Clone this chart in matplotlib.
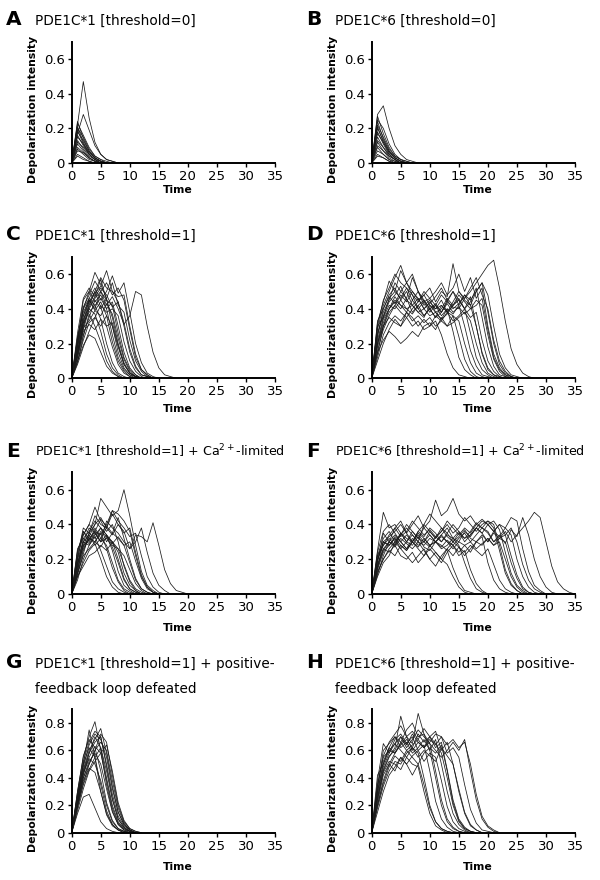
import numpy as np
import matplotlib.pyplot as plt

plt.rcParams['font.family'] = ['DejaVu Sans']
plt.rcParams['mathtext.default'] = 'regular'

# depolarization traces, one value per time step starting at t=0
traces_a = [
    [0, 0.22, 0.47, 0.26, 0.12, 0.05, 0.02, 0.01, 0],
    [0, 0.17, 0.28, 0.19, 0.1, 0.05, 0.02, 0.01, 0],
    [0, 0.24, 0.14, 0.07, 0.03, 0.01, 0],
    [0, 0.23, 0.16, 0.09, 0.04, 0.02, 0.01, 0],
    [0, 0.21, 0.12, 0.06, 0.03, 0.01, 0],
    [0, 0.2, 0.15, 0.08, 0.04, 0.02, 0],
    [0, 0.19, 0.11, 0.05, 0.02, 0.01, 0],
    [0, 0.18, 0.13, 0.07, 0.03, 0.01, 0],
    [0, 0.16, 0.1, 0.05, 0.02, 0],
    [0, 0.15, 0.11, 0.06, 0.03, 0.01, 0],
    [0, 0.13, 0.08, 0.04, 0.02, 0],
    [0, 0.12, 0.09, 0.05, 0.02, 0],
    [0, 0.11, 0.07, 0.03, 0.01, 0],
    [0, 0.09, 0.06, 0.03, 0.01, 0],
    [0, 0.08, 0.05, 0.02, 0.01, 0],
    [0, 0.07, 0.06, 0.03, 0.01, 0],
    [0, 0.05, 0.03, 0.01, 0],
    [0, 0.04, 0.02, 0.01, 0],
]

traces_b = [
    [0, 0.28, 0.33, 0.2, 0.1, 0.05, 0.02, 0.01, 0],
    [0, 0.27, 0.17, 0.09, 0.04, 0.02, 0.01, 0],
    [0, 0.25, 0.2, 0.11, 0.05, 0.02, 0.01, 0],
    [0, 0.24, 0.14, 0.07, 0.03, 0.01, 0],
    [0, 0.22, 0.15, 0.08, 0.04, 0.02, 0],
    [0, 0.21, 0.12, 0.06, 0.03, 0.01, 0],
    [0, 0.2, 0.13, 0.07, 0.03, 0.01, 0],
    [0, 0.18, 0.11, 0.05, 0.02, 0],
    [0, 0.17, 0.12, 0.06, 0.03, 0.01, 0],
    [0, 0.15, 0.09, 0.04, 0.02, 0],
    [0, 0.13, 0.09, 0.05, 0.02, 0],
    [0, 0.12, 0.07, 0.03, 0.01, 0],
    [0, 0.1, 0.07, 0.04, 0.02, 0],
    [0, 0.09, 0.05, 0.02, 0.01, 0],
    [0, 0.07, 0.05, 0.02, 0],
    [0, 0.05, 0.03, 0.01, 0],
    [0, 0.04, 0.03, 0.01, 0],
]

traces_c = [
    [0, 0.22, 0.4, 0.5, 0.61, 0.54, 0.46, 0.3, 0.15, 0.06, 0.02, 0.01, 0],
    [0, 0.16, 0.32, 0.43, 0.49, 0.53, 0.62, 0.5, 0.44, 0.3, 0.15, 0.06, 0.02, 0.01, 0],
    [0, 0.18, 0.36, 0.46, 0.52, 0.45, 0.5, 0.59, 0.49, 0.55, 0.38, 0.2, 0.09, 0.03, 0.01, 0],
    [0, 0.13, 0.28, 0.4, 0.46, 0.5, 0.42, 0.47, 0.4, 0.31, 0.36, 0.5, 0.48, 0.3, 0.15, 0.06, 0.02, 0.01, 0],
    [0, 0.1, 0.19, 0.25, 0.23, 0.15, 0.07, 0.03, 0.01, 0],
    [0, 0.15, 0.3, 0.4, 0.37, 0.27, 0.14, 0.06, 0.02, 0],
    [0, 0.21, 0.45, 0.5, 0.44, 0.48, 0.4, 0.25, 0.12, 0.05, 0.02, 0],
    [0, 0.15, 0.32, 0.38, 0.42, 0.46, 0.4, 0.44, 0.3, 0.15, 0.06, 0.02, 0],
    [0, 0.23, 0.41, 0.48, 0.56, 0.5, 0.45, 0.42, 0.26, 0.12, 0.05, 0.02, 0],
    [0, 0.1, 0.22, 0.32, 0.35, 0.3, 0.36, 0.3, 0.18, 0.08, 0.03, 0.01, 0],
    [0, 0.18, 0.33, 0.45, 0.4, 0.5, 0.55, 0.48, 0.52, 0.45, 0.28, 0.12, 0.05, 0.02, 0],
    [0, 0.2, 0.36, 0.44, 0.5, 0.41, 0.3, 0.18, 0.08, 0.03, 0.01, 0],
    [0, 0.08, 0.18, 0.27, 0.35, 0.42, 0.38, 0.4, 0.36, 0.21, 0.1, 0.04, 0.01, 0],
    [0, 0.26, 0.46, 0.52, 0.47, 0.57, 0.45, 0.35, 0.2, 0.09, 0.03, 0.01, 0],
    [0, 0.12, 0.25, 0.35, 0.45, 0.4, 0.46, 0.55, 0.42, 0.38, 0.22, 0.1, 0.04, 0.01, 0],
    [0, 0.2, 0.4, 0.46, 0.42, 0.34, 0.2, 0.09, 0.03, 0.01, 0],
    [0, 0.09, 0.24, 0.37, 0.3, 0.21, 0.1, 0.04, 0.01, 0],
    [0, 0.15, 0.3, 0.42, 0.5, 0.58, 0.52, 0.5, 0.47, 0.48, 0.3, 0.14, 0.05, 0.02, 0],
    [0, 0.19, 0.34, 0.41, 0.47, 0.52, 0.48, 0.41, 0.44, 0.32, 0.17, 0.07, 0.02, 0.01, 0],
    [0, 0.12, 0.29, 0.33, 0.39, 0.36, 0.43, 0.37, 0.23, 0.11, 0.04, 0.01, 0],
    [0, 0.24, 0.38, 0.45, 0.39, 0.44, 0.36, 0.21, 0.1, 0.04, 0.01, 0],
    [0, 0.14, 0.27, 0.31, 0.28, 0.34, 0.3, 0.32, 0.19, 0.08, 0.03, 0.01, 0],
]

traces_d = [
    [0, 0.3, 0.35, 0.46, 0.5, 0.62, 0.55, 0.6, 0.5, 0.45, 0.4, 0.42, 0.38, 0.45, 0.5, 0.42, 0.48, 0.45, 0.5, 0.55, 0.38, 0.2, 0.08, 0.03, 0.01, 0],
    [0, 0.2, 0.32, 0.4, 0.45, 0.42, 0.4, 0.37, 0.42, 0.45, 0.4, 0.43, 0.38, 0.44, 0.41, 0.4, 0.46, 0.5, 0.55, 0.6, 0.65, 0.68, 0.52, 0.33, 0.17, 0.08, 0.03, 0.01, 0],
    [0, 0.2, 0.3, 0.35, 0.32, 0.3, 0.35, 0.3, 0.33, 0.28, 0.3, 0.33, 0.25, 0.14, 0.06, 0.02, 0.01, 0],
    [0, 0.15, 0.22, 0.27, 0.24, 0.2, 0.23, 0.27, 0.24, 0.3, 0.32, 0.28, 0.35, 0.3, 0.36, 0.33, 0.2, 0.09, 0.03, 0.01, 0],
    [0, 0.28, 0.42, 0.5, 0.58, 0.65, 0.55, 0.5, 0.45, 0.48, 0.52, 0.44, 0.5, 0.47, 0.66, 0.5, 0.45, 0.42, 0.3, 0.15, 0.06, 0.02, 0.01, 0],
    [0, 0.33, 0.4, 0.48, 0.52, 0.45, 0.5, 0.42, 0.38, 0.35, 0.42, 0.4, 0.45, 0.38, 0.42, 0.46, 0.4, 0.44, 0.52, 0.35, 0.18, 0.07, 0.02, 0.01, 0],
    [0, 0.18, 0.3, 0.38, 0.42, 0.48, 0.44, 0.5, 0.46, 0.4, 0.36, 0.38, 0.34, 0.4, 0.37, 0.42, 0.3, 0.16, 0.07, 0.02, 0.01, 0],
    [0, 0.25, 0.38, 0.45, 0.55, 0.5, 0.46, 0.58, 0.5, 0.44, 0.46, 0.5, 0.55, 0.48, 0.52, 0.6, 0.5, 0.58, 0.46, 0.52, 0.3, 0.14, 0.06, 0.02, 0.01, 0],
    [0, 0.12, 0.25, 0.32, 0.36, 0.33, 0.38, 0.35, 0.3, 0.34, 0.3, 0.36, 0.33, 0.3, 0.32, 0.35, 0.38, 0.33, 0.2, 0.09, 0.03, 0.01, 0],
    [0, 0.22, 0.35, 0.42, 0.4, 0.45, 0.4, 0.42, 0.38, 0.4, 0.44, 0.4, 0.42, 0.38, 0.36, 0.24, 0.11, 0.04, 0.01, 0],
    [0, 0.3, 0.45, 0.52, 0.6, 0.55, 0.52, 0.45, 0.5, 0.42, 0.45, 0.38, 0.4, 0.46, 0.42, 0.48, 0.44, 0.4, 0.45, 0.42, 0.25, 0.11, 0.04, 0.01, 0],
    [0, 0.16, 0.28, 0.36, 0.42, 0.38, 0.35, 0.4, 0.44, 0.48, 0.42, 0.38, 0.34, 0.37, 0.42, 0.45, 0.4, 0.26, 0.12, 0.05, 0.02, 0],
    [0, 0.26, 0.36, 0.44, 0.48, 0.53, 0.45, 0.42, 0.46, 0.4, 0.43, 0.47, 0.52, 0.45, 0.4, 0.43, 0.48, 0.42, 0.5, 0.55, 0.48, 0.3, 0.14, 0.06, 0.02, 0.01, 0],
    [0, 0.1, 0.2, 0.28, 0.34, 0.3, 0.38, 0.33, 0.36, 0.32, 0.35, 0.3, 0.33, 0.38, 0.33, 0.36, 0.4, 0.35, 0.38, 0.22, 0.1, 0.04, 0.01, 0],
    [0, 0.24, 0.4, 0.47, 0.43, 0.5, 0.55, 0.48, 0.44, 0.5, 0.46, 0.42, 0.48, 0.44, 0.5, 0.45, 0.4, 0.47, 0.3, 0.14, 0.05, 0.02, 0],
    [0, 0.2, 0.34, 0.4, 0.47, 0.42, 0.38, 0.45, 0.4, 0.36, 0.4, 0.35, 0.38, 0.43, 0.38, 0.41, 0.37, 0.4, 0.42, 0.46, 0.28, 0.12, 0.05, 0.02, 0],
    [0, 0.32, 0.44, 0.56, 0.5, 0.46, 0.52, 0.48, 0.4, 0.44, 0.38, 0.42, 0.36, 0.4, 0.27, 0.12, 0.05, 0.02, 0],
    [0, 0.14, 0.3, 0.4, 0.44, 0.4, 0.46, 0.38, 0.42, 0.36, 0.4, 0.35, 0.42, 0.38, 0.44, 0.5, 0.46, 0.52, 0.58, 0.48, 0.4, 0.22, 0.1, 0.04, 0.01, 0],
]

traces_e = [
    [0, 0.2, 0.36, 0.3, 0.38, 0.32, 0.28, 0.18, 0.08, 0.03, 0.01, 0],
    [0, 0.15, 0.28, 0.35, 0.4, 0.55, 0.5, 0.45, 0.48, 0.6, 0.45, 0.28, 0.13, 0.05, 0.02, 0],
    [0, 0.12, 0.25, 0.32, 0.36, 0.3, 0.42, 0.38, 0.35, 0.3, 0.26, 0.34, 0.33, 0.3, 0.41, 0.28, 0.14, 0.06, 0.02, 0.01, 0],
    [0, 0.18, 0.3, 0.28, 0.33, 0.25, 0.16, 0.07, 0.03, 0.01, 0],
    [0, 0.1, 0.18, 0.25, 0.29, 0.2, 0.1, 0.04, 0.01, 0],
    [0, 0.22, 0.38, 0.35, 0.45, 0.4, 0.38, 0.48, 0.46, 0.42, 0.36, 0.22, 0.1, 0.04, 0.01, 0],
    [0, 0.14, 0.26, 0.32, 0.3, 0.36, 0.33, 0.3, 0.2, 0.09, 0.03, 0.01, 0],
    [0, 0.25, 0.34, 0.4, 0.5, 0.42, 0.36, 0.4, 0.3, 0.16, 0.07, 0.02, 0],
    [0, 0.08, 0.2, 0.28, 0.34, 0.38, 0.3, 0.35, 0.32, 0.28, 0.18, 0.08, 0.03, 0.01, 0],
    [0, 0.2, 0.3, 0.34, 0.28, 0.32, 0.38, 0.34, 0.4, 0.36, 0.26, 0.3, 0.38, 0.24, 0.12, 0.05, 0.02, 0],
    [0, 0.16, 0.32, 0.36, 0.42, 0.38, 0.34, 0.3, 0.24, 0.12, 0.05, 0.02, 0],
    [0, 0.12, 0.22, 0.26, 0.3, 0.27, 0.33, 0.28, 0.26, 0.17, 0.08, 0.03, 0.01, 0],
    [0, 0.24, 0.36, 0.32, 0.3, 0.35, 0.26, 0.15, 0.07, 0.02, 0],
    [0, 0.18, 0.27, 0.33, 0.4, 0.44, 0.38, 0.46, 0.4, 0.35, 0.38, 0.24, 0.11, 0.04, 0.01, 0],
    [0, 0.1, 0.16, 0.22, 0.24, 0.28, 0.25, 0.3, 0.26, 0.22, 0.14, 0.06, 0.02, 0],
    [0, 0.21, 0.34, 0.4, 0.36, 0.43, 0.39, 0.35, 0.44, 0.32, 0.2, 0.09, 0.03, 0.01, 0],
    [0, 0.13, 0.3, 0.38, 0.35, 0.3, 0.34, 0.29, 0.33, 0.28, 0.3, 0.19, 0.09, 0.03, 0.01, 0],
    [0, 0.17, 0.28, 0.31, 0.36, 0.34, 0.4, 0.48, 0.42, 0.38, 0.33, 0.35, 0.22, 0.1, 0.04, 0.01, 0],
    [0, 0.26, 0.32, 0.29, 0.35, 0.3, 0.32, 0.27, 0.18, 0.08, 0.03, 0.01, 0],
    [0, 0.11, 0.23, 0.35, 0.32, 0.38, 0.34, 0.25, 0.13, 0.05, 0.02, 0],
]

traces_f = [
    [0, 0.2, 0.3, 0.28, 0.33, 0.3, 0.26, 0.3, 0.35, 0.32, 0.28, 0.3, 0.33, 0.3, 0.28, 0.32, 0.35, 0.3, 0.34, 0.38, 0.35, 0.3, 0.32, 0.36, 0.3, 0.34, 0.38, 0.42, 0.47, 0.44, 0.3, 0.16, 0.07, 0.03, 0.01, 0],
    [0, 0.15, 0.25, 0.3, 0.28, 0.35, 0.32, 0.3, 0.36, 0.33, 0.38, 0.35, 0.3, 0.34, 0.32, 0.3, 0.36, 0.33, 0.38, 0.35, 0.4, 0.36, 0.33, 0.38, 0.44, 0.42, 0.26, 0.13, 0.05, 0.02, 0],
    [0, 0.25, 0.47, 0.38, 0.4, 0.35, 0.3, 0.36, 0.32, 0.3, 0.34, 0.3, 0.28, 0.25, 0.15, 0.07, 0.02, 0.01, 0],
    [0, 0.12, 0.2, 0.25, 0.22, 0.28, 0.25, 0.3, 0.26, 0.22, 0.28, 0.24, 0.2, 0.26, 0.22, 0.27, 0.24, 0.28, 0.25, 0.22, 0.26, 0.17, 0.08, 0.03, 0.01, 0],
    [0, 0.18, 0.35, 0.3, 0.38, 0.42, 0.35, 0.4, 0.45, 0.38, 0.42, 0.54, 0.45, 0.48, 0.55, 0.46, 0.42, 0.45, 0.4, 0.38, 0.42, 0.4, 0.28, 0.14, 0.06, 0.02, 0],
    [0, 0.1, 0.18, 0.22, 0.3, 0.26, 0.22, 0.18, 0.22, 0.26, 0.2, 0.24, 0.2, 0.17, 0.1, 0.04, 0.01, 0],
    [0, 0.22, 0.32, 0.36, 0.3, 0.34, 0.4, 0.36, 0.32, 0.38, 0.34, 0.3, 0.34, 0.38, 0.32, 0.36, 0.3, 0.34, 0.38, 0.42, 0.4, 0.36, 0.4, 0.34, 0.22, 0.11, 0.04, 0.01, 0],
    [0, 0.14, 0.24, 0.28, 0.32, 0.28, 0.25, 0.3, 0.27, 0.32, 0.28, 0.3, 0.34, 0.3, 0.26, 0.3, 0.28, 0.24, 0.3, 0.28, 0.32, 0.28, 0.3, 0.2, 0.1, 0.04, 0.01, 0],
    [0, 0.2, 0.28, 0.34, 0.38, 0.33, 0.36, 0.42, 0.38, 0.34, 0.37, 0.33, 0.36, 0.4, 0.35, 0.38, 0.44, 0.4, 0.36, 0.4, 0.42, 0.38, 0.25, 0.12, 0.05, 0.02, 0],
    [0, 0.16, 0.26, 0.24, 0.28, 0.22, 0.2, 0.24, 0.18, 0.22, 0.26, 0.22, 0.18, 0.24, 0.28, 0.22, 0.25, 0.14, 0.06, 0.02, 0],
    [0, 0.24, 0.36, 0.4, 0.35, 0.3, 0.34, 0.3, 0.36, 0.4, 0.46, 0.42, 0.38, 0.35, 0.4, 0.36, 0.32, 0.34, 0.38, 0.35, 0.3, 0.36, 0.4, 0.38, 0.34, 0.2, 0.1, 0.04, 0.01, 0],
    [0, 0.11, 0.22, 0.3, 0.27, 0.32, 0.29, 0.26, 0.3, 0.25, 0.2, 0.16, 0.22, 0.26, 0.3, 0.27, 0.22, 0.26, 0.3, 0.33, 0.18, 0.08, 0.03, 0.01, 0],
    [0, 0.19, 0.3, 0.33, 0.36, 0.4, 0.35, 0.3, 0.34, 0.3, 0.36, 0.32, 0.38, 0.33, 0.3, 0.35, 0.32, 0.36, 0.41, 0.38, 0.36, 0.3, 0.34, 0.29, 0.37, 0.33, 0.44, 0.34, 0.2, 0.1, 0.04, 0.01, 0],
    [0, 0.15, 0.3, 0.28, 0.32, 0.26, 0.3, 0.34, 0.3, 0.28, 0.32, 0.3, 0.27, 0.31, 0.28, 0.24, 0.28, 0.3, 0.26, 0.29, 0.32, 0.28, 0.32, 0.3, 0.18, 0.09, 0.03, 0.01, 0],
    [0, 0.22, 0.28, 0.32, 0.28, 0.34, 0.38, 0.34, 0.3, 0.4, 0.36, 0.32, 0.36, 0.42, 0.38, 0.34, 0.38, 0.35, 0.4, 0.43, 0.4, 0.42, 0.37, 0.24, 0.12, 0.05, 0.02, 0],
    [0, 0.13, 0.2, 0.26, 0.3, 0.35, 0.3, 0.28, 0.33, 0.27, 0.25, 0.3, 0.26, 0.28, 0.32, 0.28, 0.18, 0.09, 0.03, 0.01, 0],
    [0, 0.17, 0.26, 0.3, 0.34, 0.3, 0.26, 0.32, 0.28, 0.3, 0.27, 0.33, 0.3, 0.35, 0.3, 0.33, 0.37, 0.32, 0.3, 0.34, 0.3, 0.35, 0.32, 0.34, 0.38, 0.3, 0.17, 0.08, 0.03, 0.01, 0],
]

traces_g = [
    [0, 0.25, 0.5, 0.75, 0.55, 0.3, 0.13, 0.05, 0.02, 0.01, 0],
    [0, 0.3, 0.55, 0.7, 0.81, 0.6, 0.35, 0.16, 0.06, 0.02, 0.01, 0],
    [0, 0.14, 0.26, 0.28, 0.18, 0.08, 0.03, 0.01, 0],
    [0, 0.22, 0.42, 0.58, 0.66, 0.7, 0.5, 0.28, 0.12, 0.05, 0.02, 0],
    [0, 0.2, 0.4, 0.5, 0.6, 0.72, 0.66, 0.42, 0.2, 0.08, 0.03, 0.01, 0],
    [0, 0.28, 0.5, 0.62, 0.55, 0.35, 0.16, 0.06, 0.02, 0],
    [0, 0.18, 0.35, 0.46, 0.55, 0.62, 0.45, 0.24, 0.1, 0.04, 0.01, 0],
    [0, 0.24, 0.45, 0.58, 0.7, 0.62, 0.4, 0.2, 0.08, 0.03, 0.01, 0],
    [0, 0.26, 0.48, 0.64, 0.72, 0.68, 0.55, 0.32, 0.15, 0.06, 0.02, 0],
    [0, 0.2, 0.38, 0.47, 0.44, 0.3, 0.14, 0.06, 0.02, 0],
    [0, 0.23, 0.44, 0.55, 0.63, 0.58, 0.38, 0.18, 0.07, 0.03, 0.01, 0],
    [0, 0.16, 0.32, 0.45, 0.52, 0.58, 0.64, 0.45, 0.22, 0.09, 0.03, 0.01, 0],
    [0, 0.27, 0.52, 0.66, 0.74, 0.7, 0.48, 0.25, 0.1, 0.04, 0.01, 0],
    [0, 0.21, 0.4, 0.52, 0.58, 0.5, 0.32, 0.15, 0.06, 0.02, 0],
    [0, 0.3, 0.56, 0.68, 0.62, 0.45, 0.22, 0.09, 0.03, 0.01, 0],
    [0, 0.19, 0.36, 0.5, 0.6, 0.66, 0.6, 0.38, 0.18, 0.07, 0.02, 0],
    [0, 0.25, 0.46, 0.6, 0.68, 0.76, 0.58, 0.34, 0.15, 0.06, 0.02, 0],
    [0, 0.22, 0.43, 0.54, 0.5, 0.38, 0.2, 0.08, 0.03, 0.01, 0],
]

traces_h = [
    [0, 0.3, 0.5, 0.6, 0.65, 0.7, 0.62, 0.68, 0.75, 0.7, 0.65, 0.6, 0.55, 0.6, 0.66, 0.6, 0.68, 0.45, 0.24, 0.1, 0.04, 0.01, 0],
    [0, 0.25, 0.45, 0.55, 0.62, 0.85, 0.7, 0.65, 0.87, 0.72, 0.6, 0.68, 0.5, 0.3, 0.14, 0.06, 0.02, 0],
    [0, 0.2, 0.38, 0.5, 0.45, 0.55, 0.5, 0.42, 0.5, 0.35, 0.18, 0.08, 0.03, 0.01, 0],
    [0, 0.35, 0.55, 0.6, 0.58, 0.65, 0.7, 0.6, 0.66, 0.62, 0.7, 0.65, 0.58, 0.4, 0.2, 0.08, 0.03, 0.01, 0],
    [0, 0.42, 0.5, 0.62, 0.7, 0.66, 0.75, 0.8, 0.7, 0.72, 0.65, 0.45, 0.24, 0.1, 0.04, 0.01, 0],
    [0, 0.18, 0.34, 0.45, 0.52, 0.5, 0.58, 0.62, 0.55, 0.6, 0.56, 0.52, 0.62, 0.56, 0.5, 0.32, 0.15, 0.06, 0.02, 0],
    [0, 0.28, 0.48, 0.58, 0.65, 0.6, 0.55, 0.62, 0.58, 0.4, 0.2, 0.08, 0.03, 0.01, 0],
    [0, 0.22, 0.42, 0.5, 0.58, 0.64, 0.68, 0.62, 0.72, 0.66, 0.7, 0.74, 0.6, 0.66, 0.5, 0.3, 0.14, 0.05, 0.02, 0],
    [0, 0.32, 0.6, 0.65, 0.7, 0.62, 0.66, 0.58, 0.62, 0.68, 0.6, 0.4, 0.2, 0.08, 0.03, 0.01, 0],
    [0, 0.15, 0.3, 0.42, 0.48, 0.55, 0.5, 0.56, 0.6, 0.52, 0.58, 0.55, 0.38, 0.19, 0.08, 0.03, 0.01, 0],
    [0, 0.26, 0.46, 0.56, 0.6, 0.7, 0.64, 0.72, 0.66, 0.62, 0.68, 0.64, 0.7, 0.58, 0.62, 0.55, 0.35, 0.17, 0.07, 0.02, 0.01, 0],
    [0, 0.38, 0.65, 0.58, 0.68, 0.72, 0.65, 0.7, 0.6, 0.64, 0.45, 0.23, 0.1, 0.04, 0.01, 0],
    [0, 0.2, 0.36, 0.48, 0.56, 0.52, 0.6, 0.55, 0.5, 0.58, 0.62, 0.58, 0.64, 0.45, 0.22, 0.09, 0.03, 0.01, 0],
    [0, 0.3, 0.52, 0.62, 0.58, 0.66, 0.6, 0.64, 0.68, 0.62, 0.66, 0.72, 0.7, 0.64, 0.68, 0.62, 0.66, 0.5, 0.28, 0.12, 0.05, 0.02, 0],
    [0, 0.24, 0.44, 0.52, 0.5, 0.46, 0.55, 0.5, 0.48, 0.3, 0.14, 0.05, 0.02, 0],
    [0, 0.34, 0.56, 0.66, 0.72, 0.78, 0.7, 0.74, 0.68, 0.76, 0.7, 0.62, 0.66, 0.46, 0.24, 0.1, 0.04, 0.01, 0],
]

letters = ['A', 'B', 'C', 'D', 'E', 'F', 'G', 'H']
titles = [
    ['PDE1C*1 [threshold=0]'],
    ['PDE1C*6 [threshold=0]'],
    ['PDE1C*1 [threshold=1]'],
    ['PDE1C*6 [threshold=1]'],
    ['PDE1C*1 [threshold=1] + Ca$^{2+}$-limited'],
    ['PDE1C*6 [threshold=1] + Ca$^{2+}$-limited'],
    ['PDE1C*1 [threshold=1] + positive-', 'feedback loop defeated'],
    ['PDE1C*6 [threshold=1] + positive-', 'feedback loop defeated'],
]
all_traces = [traces_a, traces_b, traces_c, traces_d, traces_e, traces_f, traces_g, traces_h]
ymax = [0.7, 0.7, 0.7, 0.7, 0.7, 0.7, 0.9, 0.9]
yticks = [[0, 0.2, 0.4, 0.6]] * 6 + [[0, 0.2, 0.4, 0.6, 0.8]] * 2
xticks = [0, 5, 10, 15, 20, 25, 30, 35]

W, H = 600, 880
fig = plt.figure(figsize=(6, 8.8), dpi=100)

# pixel layout per row: axes top, axes bottom, title baseline, "Time" centre
rows = [(41.7, 163, 25, 190), (256.7, 378.3, 240, 409),
        (472.3, 594, 456.7, 628), (709.3, 832.7, 668, 867)]

for i in range(8):
    top, bottom, base, time_y = rows[i // 2]
    x0 = 300 * (i % 2)
    ax = fig.add_axes([(x0 + 71.7) / W, 1 - bottom / H, 203.3 / W, (bottom - top) / H])
    for y in all_traces[i]:
        ax.plot(np.arange(len(y)), y, color='#1a1a1a', lw=0.55)
    ax.set_xlim(0, 35)
    ax.set_ylim(0, ymax[i])
    ax.set_xticks(xticks)
    ax.set_yticks(yticks[i])
    ax.set_yticklabels(['0'] + ['%.1f' % v for v in yticks[i][1:]])
    for s in ['top', 'right']:
        ax.spines[s].set_visible(False)
    for s in ['left', 'bottom']:
        ax.spines[s].set_linewidth(1.4)
    ax.tick_params(direction='out', length=3, width=1, labelsize=9.5, pad=2)

    fig.text((x0 + 6) / W, 1 - base / H, letters[i], fontsize=14.5, fontweight='bold', va='baseline')
    tsize = 9.1 if 'Ca' in titles[i][0] else 9.8
    for k, line in enumerate(titles[i]):
        fig.text((x0 + 35) / W, 1 - (base + 25 * k) / H, line, fontsize=tsize, va='baseline')
    fig.text((x0 + 33) / W, 1 - ((top + bottom) / 2 + 7) / H, 'Depolarization intensity',
             rotation=90, fontsize=7.8, fontweight='bold', ha='center', va='center')
    fig.text((x0 + 178) / W, 1 - time_y / H, 'Time', fontsize=7.8, fontweight='bold',
             ha='center', va='center')

fig.savefig('out.png', dpi=100)
